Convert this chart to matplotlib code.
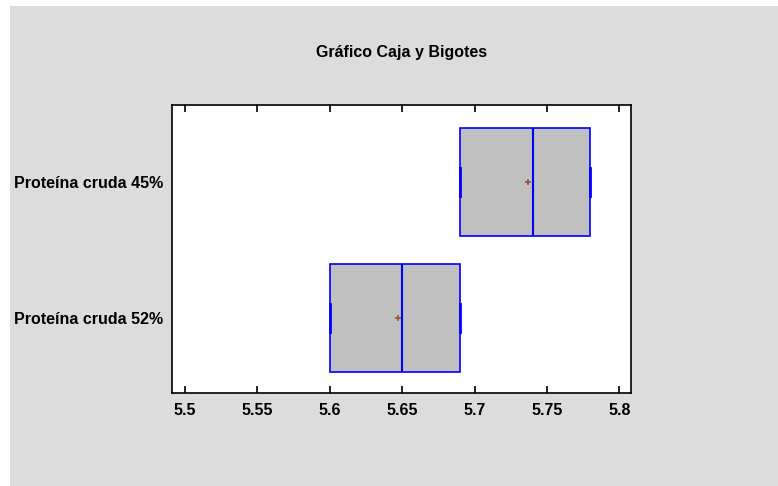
import matplotlib.pyplot as plt
import matplotlib.patches as mpatches

plt.rcParams['font.family'] = ['Liberation Sans', 'DejaVu Sans']

# box and whisker data
labels = ["Proteína cruda 52%", "Proteína cruda 45%"]
mins = [5.60, 5.69]
q1s = [5.60, 5.69]
medians = [5.65, 5.74]
q3s = [5.69, 5.78]
maxs = [5.69, 5.78]
means = [5.647, 5.737]
xticks = [5.5, 5.55, 5.6, 5.65, 5.7, 5.75, 5.8]

fig = plt.figure(figsize=(7.78, 4.86), dpi=100)
fig.patch.set_facecolor('white')
# gray panel behind the plot
fig.patches.append(mpatches.Rectangle((10/778, 0), 1 - 10/778, 1 - 6/486,
                                      transform=fig.transFigure,
                                      facecolor='#dcdcdc', edgecolor='none', zorder=-5))

ax = fig.add_axes([172/778, 1 - 393/486, (631-172)/778, (393-105)/486])
ax.set_facecolor('white')

stats = []
for i in range(len(labels)):
    stats.append(dict(label=labels[i], whislo=mins[i], q1=q1s[i], med=medians[i],
                      q3=q3s[i], whishi=maxs[i], mean=means[i], fliers=[]))

blue = '#0000ff'
ax.bxp(stats, positions=[1, 2], widths=0.794, vert=False, patch_artist=True,
       showmeans=True, capwidths=0.2,
       boxprops=dict(facecolor='#c0c0c0', edgecolor=blue, linewidth=1.2),
       medianprops=dict(color=blue, linewidth=1.5),
       whiskerprops=dict(color=blue, linewidth=1.2),
       capprops=dict(color=blue, linewidth=2),
       meanprops=dict(marker='+', markeredgecolor='#a0522d', markersize=5,
                      markeredgewidth=1.2))

ax.set_xlim(5.491, 5.808)
ax.set_ylim(0.4485, 2.566)
ax.set_xticks(xticks)
ax.set_xticklabels([f"{v:g}" for v in xticks], fontsize=11.5, fontweight='bold')
ax.set_yticks([1, 2])
ax.set_yticklabels(labels, fontsize=11.5, fontweight='bold')
ax.tick_params(axis='x', direction='in', top=True, bottom=True, length=5, width=1.2, pad=7.5)
ax.tick_params(axis='y', length=0, pad=6.5)
for s in ax.spines.values():
    s.set_linewidth(1.2)

fig.text(401.5/778, 1 - 52/486, "Gráfico Caja y Bigotes", ha='center', va='center',
         fontsize=11.5, fontweight='bold')

fig.savefig('out.png', dpi=100, facecolor=fig.get_facecolor())
